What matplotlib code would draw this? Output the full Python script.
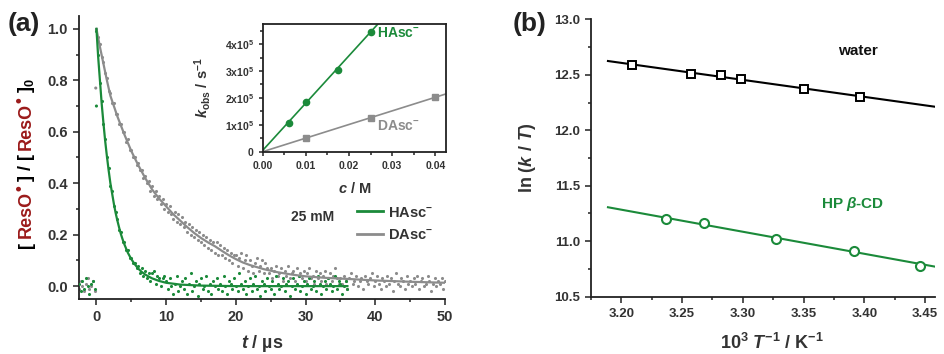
import matplotlib
matplotlib.use("Agg")
import matplotlib.pyplot as plt
from matplotlib.ticker import MultipleLocator, FixedLocator
import numpy as np

plt.rcParams['font.family'] = ['Liberation Sans', 'DejaVu Sans']
plt.rcParams['font.weight'] = 'bold'
plt.rcParams['axes.labelweight'] = 'bold'
plt.rcParams['mathtext.fontset'] = 'custom'
plt.rcParams['mathtext.rm'] = 'Liberation Sans:bold'
plt.rcParams['mathtext.it'] = 'Liberation Sans:italic:bold'
plt.rcParams['mathtext.bf'] = 'Liberation Sans:bold'

GREEN = '#1b8a3a'
GRAY = '#8c8c8c'
RED = '#9b1b1b'
TICKC = '#333333'

## panel (a): decay traces, sampled every 0.25 us starting at -2.5 us
dt = 0.25
t0 = -2.5
hasc_y = [0.01, -0.02, 0.02, -0.01, 0.03, 0.00, -0.03, 0.01, 0.02, -0.01,
          0.99, 0.90, 0.79, 0.72, 0.63, 0.57, 0.50, 0.46, 0.39, 0.37,
          0.31, 0.29, 0.26, 0.22, 0.21, 0.17, 0.17, 0.14, 0.14, 0.11,
          0.11, 0.09, 0.09, 0.07, 0.08, 0.05, 0.07, 0.04, 0.06, 0.03,
          0.05, 0.02, 0.05, 0.06, 0.01, 0.04, 0.03, 0.00, 0.03, 0.04,
          0.02, -0.01, 0.03, 0.00, -0.03, 0.01, 0.04, -0.02, 0.00, 0.02,
          -0.01, 0.03, -0.03, 0.01, 0.05, -0.02, 0.00, 0.02, -0.04, 0.01,
          0.03, -0.01, 0.00, 0.04, -0.02, 0.01, -0.03, 0.02, 0.00, 0.03,
          -0.01, 0.01, -0.02, 0.04, 0.00, -0.03, 0.02, 0.01, -0.01, 0.03,
          0.00, -0.02, 0.05, 0.01, -0.01, 0.02, -0.03, 0.00, 0.03, -0.02,
          0.01, 0.04, -0.01, 0.00, -0.04, 0.02, 0.01, -0.02, 0.03, 0.00,
          -0.01, 0.02, -0.03, 0.04, 0.01, -0.01, 0.00, 0.03, -0.02, 0.01,
          0.02, -0.04, 0.00, 0.03, -0.01, 0.01, 0.04, -0.02, 0.00, 0.02,
          -0.03, 0.01, 0.03, -0.01, 0.00, 0.02, -0.02, 0.04, 0.01, -0.03,
          0.00, 0.02, -0.01, 0.03, 0.01, -0.02, 0.00, 0.04, -0.01, 0.02,
          0.01, -0.03, 0.00, 0.02, -0.01]
dasc_y = [-0.01, 0.02, 0.00, -0.02, 0.01, 0.03, -0.01, 0.00, 0.02, -0.02,
          1.00, 0.97, 0.94, 0.89, 0.87, 0.83, 0.81, 0.76, 0.75, 0.71,
          0.71, 0.67, 0.67, 0.63, 0.63, 0.60, 0.60, 0.56, 0.57, 0.53,
          0.53, 0.50, 0.50, 0.47, 0.48, 0.45, 0.45, 0.42, 0.43, 0.40,
          0.41, 0.37, 0.39, 0.35, 0.37, 0.34, 0.35, 0.32, 0.34, 0.30, 0.32,
          0.29, 0.31, 0.28, 0.26, 0.29, 0.25, 0.28, 0.24, 0.27, 0.23,
          0.25, 0.21, 0.24, 0.20, 0.23, 0.19, 0.22, 0.18, 0.21, 0.17,
          0.20, 0.16, 0.19, 0.15, 0.18, 0.14, 0.17, 0.13, 0.17, 0.12,
          0.16, 0.12, 0.15, 0.11, 0.14, 0.10, 0.13, 0.09, 0.12,
          0.12, 0.08, 0.11, 0.13, 0.07, 0.10, 0.12, 0.06, 0.10, 0.08,
          0.05, 0.09, 0.11, 0.06, 0.08, 0.10, 0.05, 0.09, 0.07, 0.05,
          0.07, 0.03, 0.06, 0.08, 0.04, 0.05, 0.07, 0.02, 0.06, 0.04,
          0.08, 0.03, 0.05, 0.06, 0.02, 0.07, 0.04, 0.05, 0.03, 0.06,
          0.02, 0.05, 0.07, 0.03, 0.04, 0.01, 0.06, 0.03, 0.05, 0.02,
          0.04, 0.06, 0.01, 0.03, 0.05, 0.02, 0.04, 0.07, 0.03, 0.01,
          0.03, 0.01, 0.04, 0.02, -0.01, 0.03, 0.05, 0.01, 0.02, 0.04,
          0.00, 0.02, 0.03, -0.01, 0.04, 0.02, 0.01, 0.03, 0.05, 0.00,
          0.02, 0.04, 0.01, -0.01, 0.03, 0.02, 0.00, 0.04, 0.01, 0.03,
          -0.02, 0.02, 0.05, 0.01, 0.00, 0.03, 0.02, -0.01, 0.04, 0.01,
          0.02, 0.00, 0.03, 0.01, 0.04, -0.01, 0.02, 0.03, 0.00, 0.01,
          0.04, 0.02, -0.02, 0.01, 0.03, 0.00, 0.02, 0.01, 0.03, -0.01, 0.02]
# stray points right at the laser pulse
stray_t = [0.0, -0.1]
stray_y = [0.70, 0.77]

hasc_fit_t = [0, 0.25, 0.5, 0.75, 1, 1.25, 1.5, 1.75, 2, 2.25, 2.5, 2.75, 3, 3.25,
              3.5, 3.75, 4, 4.5, 5, 5.5, 6, 6.5, 7, 7.5, 8, 9, 10, 12, 15, 20, 36]
hasc_fit_y = [1.0, 0.89, 0.80, 0.71, 0.635, 0.565, 0.505, 0.45, 0.40, 0.36, 0.32,
              0.285, 0.255, 0.228, 0.203, 0.182, 0.163, 0.13, 0.105, 0.085, 0.068,
              0.055, 0.045, 0.037, 0.03, 0.02, 0.013, 0.006, 0.002, 0.0, 0.0]
dasc_fit_t = [0, 0.5, 1, 1.5, 2, 3, 4, 5, 6, 7, 8, 9, 10, 11, 12, 13, 14, 15, 16, 17,
              18, 19, 20, 21, 22, 24, 26, 28, 30, 33, 36, 40, 45, 50]
dasc_fit_y = [1.0, 0.93, 0.865, 0.80, 0.74, 0.66, 0.59, 0.525, 0.47, 0.42, 0.375, 0.34,
              0.31, 0.28, 0.255, 0.23, 0.207, 0.187, 0.17, 0.155, 0.137, 0.12, 0.105,
              0.092, 0.082, 0.066, 0.054, 0.045, 0.038, 0.032, 0.028, 0.022, 0.017, 0.013]

## inset: k_obs vs concentration
hasc_c = [0.006, 0.01, 0.0175, 0.025]
hasc_k = [1.08e5, 1.84e5, 3.04e5, 4.46e5]
dasc_c = [0.01, 0.025, 0.04]
dasc_k = [0.52e5, 1.26e5, 2.04e5]
hasc_line_c = [0.0, 0.03]
hasc_line_k = [0.05e5, 5.33e5]
dasc_line_c = [0.0, 0.0425]
dasc_line_k = [0.0, 2.15e5]

## panel (b): Eyring plot
water_x = [3.2086, 3.257, 3.2824, 3.2984, 3.3505, 3.3967]
water_y = [12.588, 12.507, 12.495, 12.459, 12.375, 12.297]
water_fit_x = [3.189, 3.458]
water_fit_y = [12.624, 12.212]
cd_x = [3.2371, 3.2676, 3.3275, 3.3912, 3.4453]
cd_y = [11.200, 11.161, 11.023, 10.915, 10.779]
cd_fit_x = [3.189, 3.458]
cd_fit_y = [11.306, 10.771]


def style_axis(ax, size, spines=('left', 'bottom')):
    for s in ['left', 'bottom', 'right', 'top']:
        if s in spines:
            ax.spines[s].set_linewidth(1.3)
            ax.spines[s].set_color('#222222')
        else:
            ax.spines[s].set_visible(False)
    ax.tick_params(which='both', direction='out', colors='#222222',
                   labelcolor=TICKC, labelsize=size, width=1.1,
                   top=False, right=False)
    ax.tick_params(which='major', length=4.5)
    ax.tick_params(which='minor', length=2.5)


def draw_label(fig, pieces, x_px, yc_px):
    # pieces: (text, colour, fontsize, raise_px, gap_before_px), stacked upward
    W, H = fig.get_size_inches() * fig.dpi
    r = fig.canvas.get_renderer()
    arts = []
    total = 0
    for s, c, size, rise, gap in pieces:
        t = fig.text(0, 0, s, color=c, fontsize=size, rotation=90,
                     rotation_mode='anchor', ha='left', va='baseline')
        h = t.get_window_extent(r).height
        arts.append((t, h, rise, gap))
        total += h + gap
    y = yc_px - total / 2
    for t, h, rise, gap in arts:
        y += gap
        t.set_position(((x_px - rise) / W, y / H))
        y += h


fig = plt.figure(figsize=(9.44, 3.54), dpi=100)

# ---- (a)
ax = fig.add_axes([0.0837, 0.1554, 0.3877, 0.7994])
ht = t0 + dt * np.arange(len(hasc_y))
dtt = t0 + dt * np.arange(len(dasc_y))
ax.scatter(dtt, dasc_y, s=5, color=GRAY, linewidths=0, zorder=2)
ax.scatter(ht, hasc_y, s=5, color=GREEN, linewidths=0, zorder=3)
ax.scatter(stray_t, stray_y, s=5, color=[GREEN, GRAY], linewidths=0, zorder=3)
ax.plot(dasc_fit_t, dasc_fit_y, color=GRAY, lw=1.6, zorder=4, label='DAsc$^{-}$')
ax.plot(hasc_fit_t, hasc_fit_y, color=GREEN, lw=1.6, zorder=5, label='HAsc$^{-}$')
ax.set_xlim(-2.5, 50)
ax.set_ylim(-0.05, 1.05)
ax.xaxis.set_major_locator(MultipleLocator(10))
ax.xaxis.set_minor_locator(MultipleLocator(5))
ax.yaxis.set_major_locator(MultipleLocator(0.2))
ax.yaxis.set_minor_locator(MultipleLocator(0.1))
ax.yaxis.set_major_formatter(lambda v, p: f"{v:.1f}")
style_axis(ax, 10.5)
ax.set_xlabel('$t$ / µs', fontsize=13, color=TICKC)
ax.xaxis.set_label_coords(0.5, -0.12)
h, l = ax.get_legend_handles_labels()
leg = ax.legend(h[::-1], l[::-1], loc='upper left', bbox_to_anchor=(0.76, 0.33),
                frameon=False, fontsize=10.5, handlelength=1.8, handletextpad=0.3,
                labelspacing=0.55, borderpad=0, borderaxespad=0)
for txt in leg.get_texts():
    txt.set_color(TICKC)
for line in leg.get_lines():
    line.set_linewidth(2)
ax.text(0.579, 0.29, '25 mM', transform=ax.transAxes, fontsize=10,
        color=TICKC, va='center', ha='left')

draw_label(fig, [('[', 'black', 13, 0, 0), ('ResO', RED, 13, 0, 4),
                 ('\u2022', RED, 12, 7, 0), ('] / [', 'black', 13, 0, 4),
                 ('ResO', RED, 13, 0, 4), ('\u2022', RED, 12, 7, 0),
                 (']$_{0}$', 'black', 13, 0, 4)],
           31, 191)

# inset
ins = fig.add_axes([0.2783, 0.5715, 0.1942, 0.3607])
ins.plot(hasc_line_c, hasc_line_k, color=GREEN, lw=1.2)
ins.plot(dasc_line_c, dasc_line_k, color=GRAY, lw=1.2)
ins.plot(hasc_c, hasc_k, 'o', color=GREEN, ms=4.5)
ins.plot(dasc_c, dasc_k, 's', color=GRAY, ms=3.8)
ins.set_xlim(0, 0.0425)
ins.set_ylim(0, 4.75e5)
ins.xaxis.set_major_locator(MultipleLocator(0.01))
ins.xaxis.set_minor_locator(MultipleLocator(0.005))
ins.xaxis.set_major_formatter(lambda v, p: f"{v:.2f}")
ins.yaxis.set_major_locator(FixedLocator([0, 1e5, 2e5, 3e5, 4e5]))
ins.yaxis.set_minor_locator(MultipleLocator(0.5e5))
ins.yaxis.set_major_formatter(lambda v, p: '0' if v == 0 else f"{int(round(v / 1e5))}x10$^{{5}}$")
style_axis(ins, 7.5, spines=('left', 'bottom', 'right', 'top'))
ins.tick_params(which='major', length=3)
ins.tick_params(which='minor', length=2)
ins.set_xlabel('$c$ / M', fontsize=10.5, color=TICKC)
ins.xaxis.set_label_coords(0.5, -0.23)
ins.set_ylabel('$k$$_{\\rm obs}$ / s$^{-1}$', fontsize=10.5, color=TICKC)
ins.yaxis.set_label_coords(-0.27, 0.5)
ins.text(0.0265, 4.4e5, 'HAsc$^{-}$', color=GREEN, fontsize=10, va='center', ha='left')
ins.text(0.0265, 0.95e5, 'DAsc$^{-}$', color=GRAY, fontsize=10, va='center', ha='left')

# ---- (b)
bx = fig.add_axes([0.626, 0.1619, 0.3644, 0.7836])
bx.plot(water_fit_x, water_fit_y, color='black', lw=1.5)
bx.plot(cd_fit_x, cd_fit_y, color=GREEN, lw=1.5)
bx.plot(water_x, water_y, 's', mfc='white', mec='black', mew=1.4, ms=6)
bx.plot(cd_x, cd_y, 'o', mfc='white', mec=GREEN, mew=1.5, ms=6.5)
bx.set_xlim(3.175, 3.458)
bx.set_ylim(10.5, 13.0)
bx.xaxis.set_major_locator(MultipleLocator(0.05))
bx.xaxis.set_minor_locator(MultipleLocator(0.025))
bx.xaxis.set_major_formatter(lambda v, p: f"{v:.2f}")
bx.yaxis.set_major_locator(MultipleLocator(0.5))
bx.yaxis.set_minor_locator(MultipleLocator(0.25))
bx.yaxis.set_major_formatter(lambda v, p: f"{v:.1f}")
style_axis(bx, 9.5)
bx.set_ylabel('ln ($k$ / $T$)', fontsize=13, color=TICKC)
bx.yaxis.set_label_coords(-0.155, 0.5)
bx.set_xlabel('10$^{3}$ $T^{-1}$ / K$^{-1}$', fontsize=13, color=TICKC)
bx.xaxis.set_label_coords(0.526, -0.13)
bx.text(3.3945, 12.71, 'water', fontsize=11, ha='center', va='center', color='#111111')
bx.text(3.39, 11.335, 'HP $\\beta$-CD', fontsize=11, ha='center', va='center', color=GREEN)

fig.text(8 / 944, 1 - 12 / 354, '(a)', fontsize=19, va='top', ha='left', color='#222222')
fig.text(513 / 944, 1 - 12 / 354, '(b)', fontsize=19, va='top', ha='left', color='#222222')

fig.savefig('out.png', dpi=100)
